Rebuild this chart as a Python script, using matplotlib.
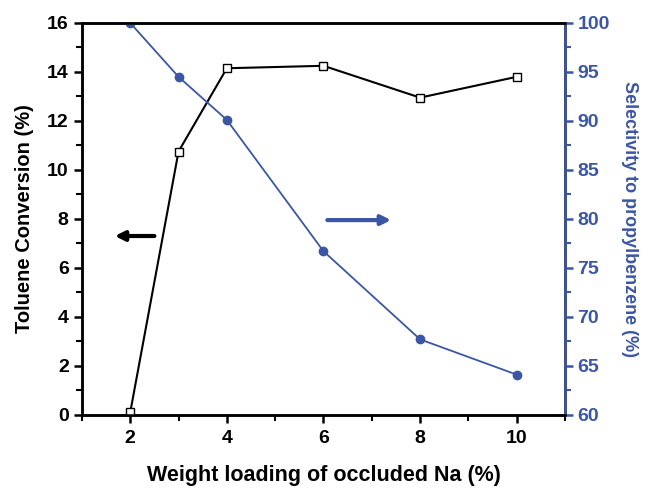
import matplotlib
matplotlib.use('Agg')
from matplotlib import pyplot as plt
from matplotlib.ticker import MultipleLocator

plt.rcParams['font.family'] = ['Liberation Sans', 'DejaVu Sans']
plt.rcParams['font.weight'] = 'bold'

na_loading = [2, 3, 4, 6, 8, 10]
conversion = [0.1, 10.75, 14.15, 14.25, 12.95, 13.8]
selectivity = [100, 94.5, 90.1, 76.7, 67.7, 64.1]

blue = '#3b56a5'

fig = plt.figure(figsize=(6.45, 4.88), dpi=100)
ax = fig.add_axes([0.127, 0.150, 0.749, 0.803])
ax2 = ax.twinx()

ax.plot(na_loading, conversion, 'k-', lw=1.5, marker='s', ms=6,
        mfc='white', mec='black', mew=1.0, zorder=3)
ax2.plot(na_loading, selectivity, '-', color=blue, lw=1.3, marker='o', ms=6,
         mfc=blue, mec=blue)

ax.set_xlim(1, 11)
ax.set_ylim(0, 16)
ax2.set_ylim(60, 100)
ax.set_xticks([2, 4, 6, 8, 10])
ax.xaxis.set_minor_locator(MultipleLocator(1))
ax.yaxis.set_major_locator(MultipleLocator(2))
ax.yaxis.set_minor_locator(MultipleLocator(1))
ax2.yaxis.set_major_locator(MultipleLocator(5))
ax2.yaxis.set_minor_locator(MultipleLocator(2.5))

for a in (ax, ax2):
    for s in a.spines.values():
        s.set_linewidth(1.8)
ax2.spines['right'].set_color(blue)
ax2.spines['left'].set_color('black')

ax.tick_params(axis='both', which='major', direction='out', length=6, width=1.8,
               labelsize=14)
ax.tick_params(axis='x', which='major', pad=5)
ax.tick_params(axis='both', which='minor', direction='out', length=4, width=1.5)
ax2.tick_params(axis='y', which='major', direction='out', length=6, width=1.8,
                labelsize=14, colors=blue, pad=3)
ax2.tick_params(axis='y', which='minor', direction='out', length=4, width=1.5,
                colors=blue)

ax.set_xlabel('Weight loading of occluded Na (%)', fontsize=15.5, fontweight='bold',
              labelpad=13)
ax.set_ylabel('Toluene Conversion (%)', fontsize=14.5, fontweight='bold', labelpad=9)
ax2.set_ylabel('Selectivity to propylbenzene (%)', fontsize=13, fontweight='bold',
               color=blue, rotation=270, labelpad=20)

ax.annotate('', xy=(1.68, 7.3), xytext=(2.5, 7.3),
            arrowprops=dict(arrowstyle='-|>', color='black', lw=3,
                            mutation_scale=14, shrinkA=0, shrinkB=0))
ax.annotate('', xy=(7.4, 7.95), xytext=(6.08, 7.95),
            arrowprops=dict(arrowstyle='-|>', color=blue, lw=3,
                            mutation_scale=14, shrinkA=0, shrinkB=0))

fig.savefig('out.png', dpi=100)
